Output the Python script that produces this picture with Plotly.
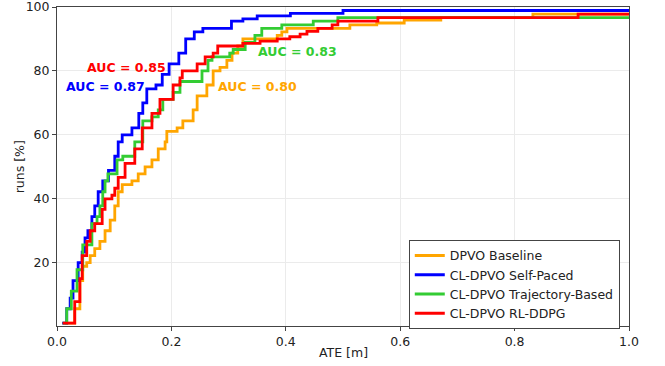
import plotly.graph_objects as go

names = ["DPVO Baseline", "CL-DPVO Self-Paced", "CL-DPVO Trajectory-Based", "CL-DPVO RL-DDPG"]
colors = ["#FFA500", "#0000FF", "#33CC33", "#FF0000"]

orange_x = [0.014, 0.031, 0.040, 0.045, 0.052, 0.058, 0.066, 0.075, 0.084, 0.093, 0.101, 0.107, 0.114, 0.131,
            0.142, 0.154, 0.166, 0.177, 0.189, 0.192, 0.210, 0.220, 0.238, 0.245, 0.262, 0.273, 0.285, 0.297,
            0.306, 0.316, 0.325, 0.385, 0.393, 0.402, 0.512, 0.559, 0.607, 0.671, 0.832, 1.0]
orange_y = [1.1, 5.6, 14.4, 18.9, 20.0, 22.2, 24.4, 26.7, 30.0, 33.3, 37.8, 42.2, 44.4, 45.6,
            47.8, 50.0, 52.2, 55.6, 57.8, 61.1, 62.2, 64.4, 67.8, 72.2, 75.6, 80.0, 81.1, 83.3,
            85.6, 87.8, 90.0, 91.1, 92.2, 93.3, 94.4, 95.0, 95.9, 96.7, 97.8, 97.8]

blue_x = [0.009, 0.017, 0.023, 0.028, 0.037, 0.044, 0.049, 0.054, 0.061, 0.066, 0.072, 0.080, 0.090, 0.101,
          0.107, 0.114, 0.131, 0.143, 0.150, 0.157, 0.173, 0.184, 0.196, 0.213, 0.225, 0.240, 0.255, 0.305,
          0.325, 0.350, 0.408, 0.500, 1.0]
blue_y = [1.1, 5.6, 8.9, 14.4, 20.0, 23.3, 27.8, 30.0, 34.4, 37.8, 42.2, 45.6, 48.9, 53.3,
          57.8, 60.0, 62.2, 66.7, 70.0, 74.4, 75.6, 78.9, 82.2, 85.6, 90.0, 92.2, 93.3, 95.6,
          96.3, 97.2, 98.0, 98.9, 98.9]

green_x = [0.010, 0.017, 0.025, 0.035, 0.045, 0.061, 0.070, 0.075, 0.080, 0.084, 0.089, 0.105, 0.115, 0.136,
           0.150, 0.166, 0.177, 0.185, 0.203, 0.215, 0.2535, 0.264, 0.271, 0.302, 0.308, 0.329, 0.346, 0.358,
           0.393, 0.448, 0.491, 1.0]
green_y = [1.1, 5.6, 11.1, 17.8, 25.6, 32.2, 34.4, 37.8, 42.2, 45.6, 47.8, 52.2, 53.3, 57.8,
           64.4, 65.6, 67.8, 71.1, 73.3, 76.7, 80.0, 83.3, 84.4, 85.6, 86.7, 88.9, 91.1, 93.3,
           94.4, 95.6, 96.7, 96.7]

red_x = [0.010, 0.031, 0.040, 0.044, 0.052, 0.058, 0.066, 0.079, 0.084, 0.096, 0.101, 0.107, 0.119, 0.136,
         0.149, 0.166, 0.180, 0.203, 0.215, 0.219, 0.245, 0.259, 0.273, 0.281, 0.325, 0.355, 0.385, 0.407,
         0.425, 0.437, 0.456, 0.481, 0.491, 0.561, 0.911, 1.0]
red_y = [1.1, 7.8, 15.0, 22.2, 26.7, 30.0, 32.2, 36.7, 40.0, 41.1, 43.3, 46.7, 51.1, 55.6,
         62.2, 66.7, 71.1, 75.6, 77.8, 80.0, 82.2, 84.4, 85.6, 87.8, 88.6, 89.3, 90.0, 90.7,
         91.5, 92.4, 93.3, 94.4, 95.6, 96.7, 97.8, 97.8]

auc_text = ["AUC = 0.80", "AUC = 0.87", "AUC = 0.83", "AUC = 0.85"]
auc_pos_x = [0.35, 0.084, 0.42, 0.122]
auc_pos_y = [75.0, 75.0, 86.0, 81.0]

x_ticks = [0.0, 0.2, 0.4, 0.6, 0.8, 1.0]
x_tick_labels = ["0.0", "0.2", "0.4", "0.6", "0.8", "1.0"]
y_ticks = [20, 40, 60, 80, 100]
x_title = "ATE [m]"
y_title = "runs [%]"

series_x = [orange_x, blue_x, green_x, red_x]
series_y = [orange_y, blue_y, green_y, red_y]

FONT = "DejaVu Sans"
TXT = "#222"
fig = go.Figure()
for nm, c, xs, ys in zip(names, colors, series_x, series_y):
    fig.add_trace(go.Scatter(x=xs, y=ys, mode="lines", name=nm,
                             line=dict(color=c, width=2.8, shape="hv")))

for t, c, ax, ay in zip(auc_text, colors, auc_pos_x, auc_pos_y):
    fig.add_annotation(x=ax, y=ay, text="<b>" + t + "</b>", showarrow=False,
                       font=dict(family=FONT, size=12.5, color=c),
                       xanchor="center", yanchor="middle")

# axis titles
fig.add_annotation(xref="paper", yref="paper", x=0.5, y=-0.082, text=x_title, showarrow=False,
                   font=dict(family=FONT, size=12.5, color=TXT), xanchor="center", yanchor="middle")
fig.add_annotation(xref="paper", yref="paper", x=-0.065, y=0.5, text=y_title, showarrow=False,
                   textangle=-90, font=dict(family=FONT, size=12.5, color=TXT),
                   xanchor="center", yanchor="middle")

axis_common = dict(showline=True, mirror=True, linecolor="#444", linewidth=1,
                   ticks="outside", ticklen=4, tickcolor="#444", automargin=False,
                   ticklabeloverflow="allow",
                   showgrid=True, gridcolor="#ebebeb", gridwidth=1, zeroline=False,
                   tickfont=dict(family=FONT, size=12.5, color=TXT))

fig.update_xaxes(range=[0, 1], tickvals=x_ticks, ticktext=x_tick_labels, **axis_common)
fig.update_yaxes(range=[0.2, 100], tickvals=y_ticks, **axis_common)

fig.update_layout(
    width=665, height=366,
    margin=dict(l=57, r=36, t=7, b=40),
    paper_bgcolor="white", plot_bgcolor="white",
    font=dict(family=FONT, size=12.5, color=TXT),
    legend=dict(x=0.615, y=0.27, xanchor="left", yanchor="top",
                bgcolor="white", bordercolor="#444", borderwidth=1,
                font=dict(family=FONT, size=12.5, color=TXT),
                tracegroupgap=0),
    showlegend=True,
)

fig.write_html("out.html", config={"displayModeBar": False},
               post_script="document.body.style.margin='0';document.body.style.overflow='hidden';")
